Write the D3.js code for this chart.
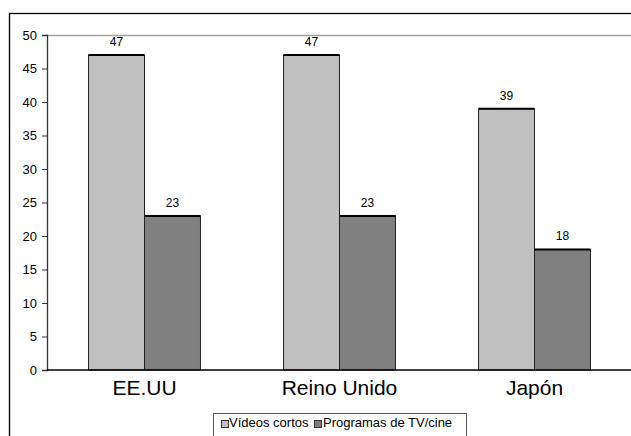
<!DOCTYPE html>
<html>
<head>
<meta charset="utf-8">
<script src="https://cdn.jsdelivr.net/npm/d3@7"></script>
<style>
  html, body { margin: 0; padding: 0; background: #fff; }
  svg { display: block; }
  svg text { font-family: "Liberation Sans", Arial, Helvetica, sans-serif; }
</style>
</head>
<body>
<svg id="chart" width="631" height="436"></svg>
<script>
// Data
const categories = ["EE.UU", "Reino Unido", "Japón"];
const seriesNames = ["Vídeos cortos", "Programas de TV/cine"];
const videosCortos = [47, 47, 39];
const programasTV = [23, 23, 18];
const yTicks = [0, 5, 10, 15, 20, 25, 30, 35, 40, 45, 50];
const seriesColors = ["#c0c0c0", "#808080"];

const FONT = "'Liberation Sans', Arial, Helvetica, sans-serif";

const seriesValues = [videosCortos, programasTV];
const rows = categories.map((c, i) => ({
  category: c,
  values: seriesNames.map((s, j) => ({ series: s, idx: j, value: seriesValues[j][i] }))
}));

const svg = d3.select("#chart");
const W = 631, H = 436;
const plot = { left: 47, top: 35, right: 632, bottom: 370 };

// Outer chart frame
svg.append("rect")
  .attr("x", 9.5).attr("y", 13.5)
  .attr("width", W + 10).attr("height", H + 10)
  .attr("fill", "none").attr("stroke", "#000").attr("stroke-width", 1.3);

const y = d3.scaleLinear().domain([0, 50]).range([plot.bottom, plot.top]);
const x0 = d3.scaleBand().domain(categories)
  .range([plot.left, plot.right])
  .paddingInner(0.426).paddingOuter(0.213);
const x1 = d3.scaleBand().domain(seriesNames).range([0, x0.bandwidth()]);

// Plot area border (top edge visible)
svg.append("line")
  .attr("x1", plot.left).attr("x2", W)
  .attr("y1", Math.round(y(50)) + 0.5).attr("y2", Math.round(y(50)) + 0.5)
  .attr("stroke", "#a0a0a0").attr("stroke-width", 1.5);

// Bars
const groups = svg.append("g").selectAll("g")
  .data(rows).join("g")
  .attr("transform", d => `translate(${x0(d.category)},0)`);

groups.selectAll("rect")
  .data(d => d.values).join("rect")
  .attr("x", d => x1(d.series))
  .attr("y", d => y(d.value))
  .attr("width", x1.bandwidth())
  .attr("height", d => y(0) - y(d.value))
  .attr("fill", d => seriesColors[d.idx])
  .attr("stroke", "#222").attr("stroke-width", 1);

// Heavier top edge on each bar
groups.selectAll("line.top")
  .data(d => d.values).join("line")
  .attr("class", "top")
  .attr("x1", d => x1(d.series))
  .attr("x2", d => x1(d.series) + x1.bandwidth())
  .attr("y1", d => y(d.value)).attr("y2", d => y(d.value))
  .attr("stroke", "#000").attr("stroke-width", 2);

// Value labels
groups.selectAll("text")
  .data(d => d.values).join("text")
  .attr("x", d => x1(d.series) + x1.bandwidth() / 2)
  .attr("y", d => y(d.value) - 9)
  .attr("text-anchor", "middle")
  .attr("font-family", FONT)
  .attr("font-size", 12)
  .attr("fill", "#000")
  .text(d => d.value);

// Y axis
const yAxis = d3.axisLeft(y).tickValues(yTicks).tickSize(5).tickPadding(5);
const gy = svg.append("g")
  .attr("transform", `translate(${plot.left},0)`)
  .call(yAxis)
  .attr("font-family", FONT);
gy.select(".domain").attr("stroke", "#333").attr("stroke-width", 1.3);
gy.selectAll(".tick line").attr("stroke", "#333");
gy.selectAll(".tick text")
  .attr("font-size", 13)
  .attr("font-family", FONT)
  .attr("fill", "#000");

// Baseline
svg.append("line")
  .attr("x1", plot.left).attr("x2", W)
  .attr("y1", y(0)).attr("y2", y(0))
  .attr("stroke", "#000").attr("stroke-width", 1.3);

// Category labels
svg.append("g").selectAll("text")
  .data(categories).join("text")
  .attr("x", d => x0(d) + x0.bandwidth() / 2)
  .attr("y", 395)
  .attr("text-anchor", "middle")
  .attr("font-family", FONT)
  .attr("font-size", 21)
  .attr("fill", "#000")
  .text(d => d);

// Legend
const legend = svg.append("g");
legend.append("rect")
  .attr("x", 213.5).attr("y", 413.5)
  .attr("width", 253).attr("height", 40)
  .attr("fill", "#fff").attr("stroke", "#555").attr("stroke-width", 1);

const legendItems = [
  { name: seriesNames[0], color: seriesColors[0], sx: 221, tx: 229 },
  { name: seriesNames[1], color: seriesColors[1], sx: 314, tx: 323 }
];
const li = legend.selectAll("g.item").data(legendItems).join("g").attr("class", "item");
li.append("rect")
  .attr("x", d => d.sx + 0.5).attr("y", 420.5)
  .attr("width", 7).attr("height", 7)
  .attr("fill", d => d.color).attr("stroke", "#333").attr("stroke-width", 1);
li.append("text")
  .attr("x", d => d.tx).attr("y", 427)
  .attr("font-family", FONT)
  .attr("font-size", 13)
  .attr("fill", "#000")
  .text(d => d.name);
</script>
</body>
</html>
